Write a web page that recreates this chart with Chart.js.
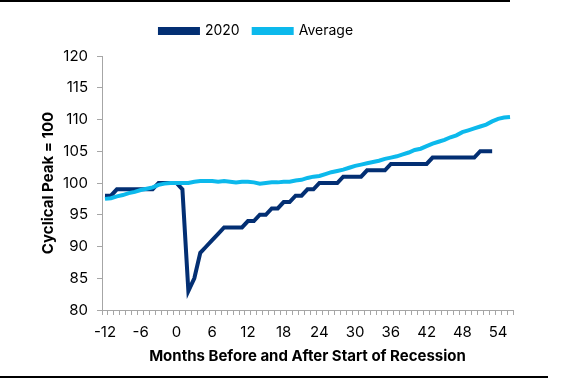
<!DOCTYPE html>
<html>
<head>
<meta charset="utf-8">
<script src="https://cdn.jsdelivr.net/npm/chart.js@4/dist/chart.umd.min.js"></script>
<style>
  html, body { margin: 0; padding: 0; background: #ffffff; }
  #wrap { position: relative; width: 563px; height: 380px; }
  #c { position: absolute; left: 0; top: 0; }
  .rule { position: absolute; left: 0; height: 2px; background: #000; }
</style>
</head>
<body>
<div id="wrap">
  <canvas id="c" width="563" height="380"></canvas>
  <div class="rule" style="top:0px;width:510px;"></div>
  <div class="rule" style="top:376px;width:548px;"></div>
</div>
<script>
// Months relative to start of recession
const months = [];
for (let m = -12; m <= 56; m++) months.push(m);

const series2020 = [
  98, 98, 99, 99, 99, 99, 99, 99, 99, 100, 100, 100,      // -12..-1
  100, 99, 83, 85, 89, 90, 91, 92, 93, 93, 93, 93,        // 0..11
  94, 94, 95, 95, 96, 96, 97, 97, 98, 98, 99, 99,         // 12..23
  100, 100, 100, 100, 101, 101, 101, 101, 102, 102, 102, 102, // 24..35
  103, 103, 103, 103, 103, 103, 103, 104, 104, 104, 104, 104, // 36..47
  104, 104, 104, 105, 105, 105,                          // 48..53
  null, null, null                                       // 54..56
];

const seriesAverage = [
  97.5, 97.6, 97.9, 98.1, 98.4, 98.6, 98.9, 99.1, 99.3, 99.7, 99.9, 100.0, // -12..-1
  100.0, 100.0, 100.0, 100.2, 100.3, 100.3, 100.3, 100.2, 100.3, 100.2, 100.1, 100.2, // 0..11
  100.2, 100.1, 99.9, 100.0, 100.1, 100.1, 100.2, 100.2, 100.4, 100.5, 100.8, 101.0, // 12..23
  101.1, 101.4, 101.7, 101.9, 102.1, 102.4, 102.7, 102.9, 103.1, 103.3, 103.5, 103.8, // 24..35
  104.0, 104.2, 104.5, 104.8, 105.2, 105.4, 105.8, 106.2, 106.5, 106.8, 107.2, 107.5, // 36..47
  108.0, 108.3, 108.6, 108.9, 109.2, 109.7, 110.1, 110.3, 110.4            // 48..56
];

const xTickEvery = 6;
const yTicks = [80, 85, 90, 95, 100, 105, 110, 115, 120];

const FONT = "Inter, 'Open Sans', 'DejaVu Sans', sans-serif";
const AXIS_GRAY = '#a6a6a6';

// Extends the legend box downward so the plot starts lower
const legendSpacer = {
  id: 'legendSpacer',
  afterInit(chart) {
    const lg = chart.legend;
    if (!lg) return;
    const origFit = lg.fit.bind(lg);
    lg.fit = function () {
      origFit();
      this.height += 8;
    };
  }
};

new Chart(document.getElementById('c'), {
  type: 'line',
  data: {
    labels: months,
    datasets: [
      {
        label: '2020',
        data: series2020,
        borderColor: '#032f73',
        backgroundColor: '#032f73',
        borderWidth: 4,
        pointRadius: 0,
        tension: 0,
        order: 1,
        spanGaps: false
      },
      {
        label: 'Average',
        data: seriesAverage,
        borderColor: '#0cb9ec',
        backgroundColor: '#0cb9ec',
        borderWidth: 4,
        pointRadius: 0,
        tension: 0,
        order: 0
      }
    ]
  },
  plugins: [legendSpacer],
  options: {
    responsive: false,
    animation: false,
    devicePixelRatio: 1,
    layout: { padding: { left: 0, right: 50, top: 10, bottom: 0 } },
    plugins: {
      legend: {
        display: true,
        position: 'top',
        align: 'center',
        labels: {
          font: { family: FONT, size: 14 },
          color: '#000',
          boxWidth: 38,
          boxHeight: 4,
          padding: 14,
          sort: (a, b) => a.datasetIndex - b.datasetIndex
        }
      },
      tooltip: { enabled: false }
    },
    scales: {
      x: {
        type: 'category',
        offset: true,
        grid: {
          offset: true,
          drawOnChartArea: false,
          drawTicks: true,
          tickLength: 5,
          color: AXIS_GRAY
        },
        border: { display: true, color: AXIS_GRAY, width: 1 },
        ticks: {
          autoSkip: false,
          maxRotation: 0,
          minRotation: 0,
          padding: 8,
          color: '#000',
          font: { family: FONT, size: 15 },
          callback: function (val, idx) {
            const m = months[idx];
            return ((m + 12) % xTickEvery === 0) ? String(m) : '';
          }
        },
        title: {
          display: true,
          text: 'Months Before and After Start of Recession',
          color: '#000',
          font: { family: FONT, size: 15, weight: 'bold' },
          padding: { top: 0, bottom: 15 }
        },
        afterFit: (scale) => { scale.height = 70; }
      },
      y: {
        min: 80,
        max: 120,
        afterBuildTicks: (scale) => { scale.ticks = yTicks.map(v => ({ value: v })); },
        grid: {
          drawOnChartArea: false,
          drawTicks: true,
          tickLength: 5,
          color: AXIS_GRAY
        },
        border: { display: true, color: AXIS_GRAY, width: 1 },
        ticks: {
          padding: 9,
          color: '#000',
          font: { family: FONT, size: 15 }
        },
        title: {
          display: true,
          text: 'Cyclical Peak = 100',
          color: '#000',
          font: { family: FONT, size: 15, weight: 'bold' },
          padding: { top: 39, bottom: 0 }
        },
        afterFit: (scale) => { scale.width = 102; }
      }
    }
  }
});
</script>
</body>
</html>
